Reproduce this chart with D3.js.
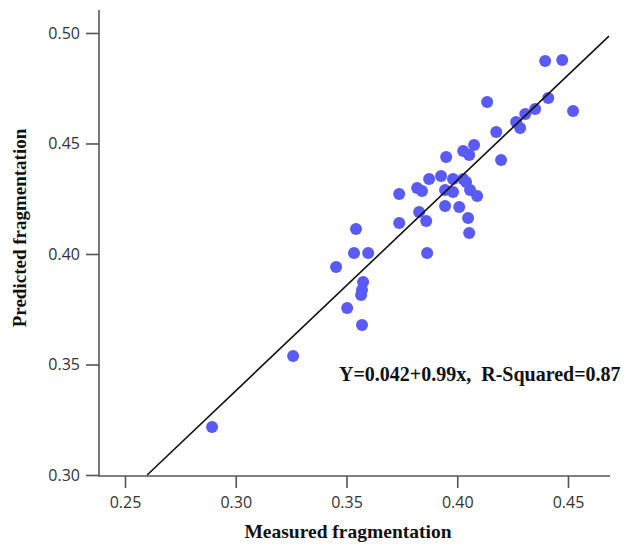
<!DOCTYPE html>
<html>
<head>
<meta charset="utf-8">
<script src="https://cdn.jsdelivr.net/npm/d3@7/dist/d3.min.js"></script>
<style>
  html, body { margin: 0; padding: 0; background: #fff; }
  svg { display: block; }
</style>
</head>
<body>
<svg id="chart" width="630" height="544"></svg>
<script>
// Data
const measured = [0.2893, 0.3259, 0.3453, 0.3503, 0.3534, 0.3598, 0.3543, 0.3575, 0.3570, 0.3566,
  0.3570, 0.3864, 0.3738, 0.3738, 0.3828, 0.3860, 0.3819, 0.3841, 0.3873, 0.3927,
  0.3950, 0.3981, 0.4027, 0.3945, 0.3981, 0.3945, 0.4009, 0.4040, 0.4058, 0.4090,
  0.4049, 0.4054, 0.4027, 0.4054, 0.4076, 0.4135, 0.4176, 0.4198, 0.4266, 0.4284,
  0.4307, 0.4352, 0.4411, 0.4523, 0.4397, 0.4474];
const predicted = [0.3217, 0.3538, 0.3941, 0.3756, 0.4005, 0.4005, 0.4113, 0.3873, 0.3837, 0.3814,
  0.3679, 0.4005, 0.4271, 0.4140, 0.4190, 0.4149, 0.4299, 0.4285, 0.4339, 0.4353,
  0.4439, 0.4339, 0.4339, 0.4290, 0.4281, 0.4217, 0.4213, 0.4326, 0.4290, 0.4262,
  0.4163, 0.4095, 0.4466, 0.4448, 0.4493, 0.4688, 0.4552, 0.4425, 0.4597, 0.4570,
  0.4633, 0.4656, 0.4706, 0.4647, 0.4873, 0.4878];
const fitX = [0.2600, 0.4685];
const fitY = [0.3000, 0.4986];
const xTicks = [0.25, 0.30, 0.35, 0.40, 0.45];
const yTicks = [0.30, 0.35, 0.40, 0.45, 0.50];
const xTitle = "Measured fragmentation";
const yTitle = "Predicted fragmentation";
const note = "Y=0.042+0.99x,  R-Squared=0.87";

const svg = d3.select("#chart");
const padL = 99, padR = 610, padT = 10, padB = 475;

const x = d3.scaleLinear().domain([0.23826, 0.46897]).range([padL, padR]);
const y = d3.scaleLinear().domain([0.30, 0.5104]).range([padB, padT]);

const axisColor = "#555";
const tickFont = "'Open Sans', 'DejaVu Sans', sans-serif";
const titleFont = "'Liberation Serif', 'Times New Roman', serif";

// X axis
const xAxis = svg.append("g")
  .attr("transform", `translate(0,${padB + 1})`)
  .call(d3.axisBottom(x).tickValues(xTicks).tickFormat(d3.format(".2f")).tickSize(12).tickPadding(9).tickSizeOuter(0));
// Y axis
const yAxis = svg.append("g")
  .attr("transform", `translate(${padL},0)`)
  .call(d3.axisLeft(y).tickValues(yTicks).tickFormat(d3.format(".2f")).tickSize(13).tickPadding(6).tickSizeOuter(0));

[xAxis, yAxis].forEach(g => {
  g.select(".domain").attr("stroke", axisColor).attr("stroke-width", 1.6);
  g.selectAll(".tick line").attr("stroke", axisColor).attr("stroke-width", 1.6);
  g.selectAll(".tick text").attr("fill", "#333").attr("font-size", 16).attr("font-family", tickFont);
});
yAxis.select(".domain").attr("d", `M0,${padT}V${padB + 1}`);
xAxis.select(".domain").attr("d", `M${padL - 1},0H${padR}`);

// Points
svg.append("g").selectAll("circle")
  .data(measured.map((m, i) => [m, predicted[i]]))
  .join("circle")
  .attr("cx", d => x(d[0]))
  .attr("cy", d => y(d[1]))
  .attr("r", 6)
  .attr("fill", "#5a5af6");

// Fit line
svg.append("path")
  .datum(fitX.map((v, i) => [v, fitY[i]]))
  .attr("d", d3.line().x(d => x(d[0])).y(d => y(d[1])))
  .attr("stroke", "#111")
  .attr("stroke-width", 1.6)
  .attr("fill", "none");

// Titles
svg.append("text")
  .attr("x", 348).attr("y", 538)
  .attr("text-anchor", "middle")
  .attr("font-family", titleFont).attr("font-weight", "bold").attr("font-size", 19.5)
  .attr("fill", "#111")
  .text(xTitle);

svg.append("text")
  .attr("transform", "translate(26,228) rotate(-90)")
  .attr("text-anchor", "middle")
  .attr("font-family", titleFont).attr("font-weight", "bold").attr("font-size", 19)
  .attr("fill", "#111")
  .text(yTitle);

svg.append("text")
  .attr("x", 339).attr("y", 381)
  .attr("font-family", titleFont).attr("font-weight", "bold").attr("font-size", 20)
  .attr("fill", "#111")
  .attr("xml:space", "preserve")
  .style("white-space", "pre")
  .text(note);
</script>
</body>
</html>
